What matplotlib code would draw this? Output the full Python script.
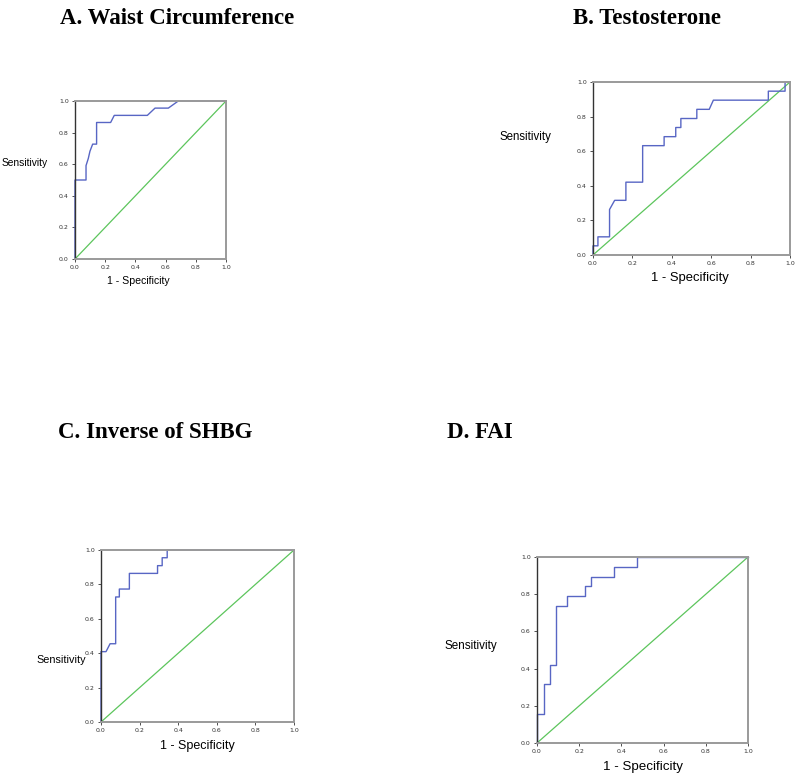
import matplotlib
matplotlib.use("Agg")
import matplotlib.pyplot as plt
import numpy as np

W, H = 800, 778

titles = ["A. Waist Circumference", "B. Testosterone", "C. Inverse of SHBG", "D. FAI"]

fpr_a = [0, 0, 0.073, 0.073, 0.088, 0.099, 0.117, 0.143, 0.143, 0.236, 0.26, 0.479, 0.53, 0.618, 0.684, 1.0]
tpr_a = [0, 0.5, 0.5, 0.591, 0.636, 0.682, 0.727, 0.727, 0.864, 0.864, 0.909, 0.909, 0.955, 0.955, 1.0, 1.0]

fpr_b = [0, 0, 0.025, 0.025, 0.084, 0.084, 0.11, 0.167, 0.167, 0.252, 0.252, 0.361, 0.361, 0.42, 0.42,
         0.446, 0.446, 0.527, 0.527, 0.59, 0.611, 0.89, 0.89, 0.975, 0.975, 1.0]
tpr_b = [0, 0.053, 0.053, 0.105, 0.105, 0.263, 0.316, 0.316, 0.421, 0.421, 0.632, 0.632, 0.684, 0.684, 0.737,
         0.737, 0.789, 0.789, 0.842, 0.842, 0.895, 0.895, 0.947, 0.947, 1.0, 1.0]

fpr_c = [0, 0, 0.026, 0.047, 0.076, 0.076, 0.095, 0.095, 0.147, 0.147, 0.293, 0.293, 0.317, 0.317, 0.343, 0.343, 1.0]
tpr_c = [0, 0.409, 0.409, 0.455, 0.455, 0.727, 0.727, 0.773, 0.773, 0.864, 0.864, 0.909, 0.909, 0.955, 0.955, 1.0, 1.0]

fpr_d = [0, 0, 0.032, 0.032, 0.06, 0.06, 0.088, 0.088, 0.142, 0.142, 0.226, 0.226, 0.254, 0.254, 0.365, 0.365, 0.474, 0.474, 1.0]
tpr_d = [0, 0.158, 0.158, 0.316, 0.316, 0.421, 0.421, 0.737, 0.737, 0.789, 0.789, 0.842, 0.842, 0.895, 0.895, 0.947, 0.947, 1.0, 1.0]

ticks = [0.0, 0.2, 0.4, 0.6, 0.8, 1.0]
tick_labels = ["0.0", "0.2", "0.4", "0.6", "0.8", "1.0"]

# layout (pixels): axes x0, x1, y_top, y_bottom
panels = [
    dict(fpr=fpr_a, tpr=tpr_a, box=(75, 226, 101, 259), title=(177, 18), sens=(25, 163, 7.4), spec=(138, 281, 7.6)),
    dict(fpr=fpr_b, tpr=tpr_b, box=(593, 790, 82, 255), title=(647, 18), sens=(525, 137, 8.3), spec=(690, 278, 9.4)),
    dict(fpr=fpr_c, tpr=tpr_c, box=(101, 294, 550, 722), title=(155, 432), sens=(61, 660, 7.8), spec=(197, 746, 9.0)),
    dict(fpr=fpr_d, tpr=tpr_d, box=(537, 748, 557, 743), title=(480, 432), sens=(471, 646, 8.4), spec=(643, 767, 9.6)),
]

fig = plt.figure(figsize=(W / 100, H / 100), dpi=100)
fig.patch.set_facecolor("white")

for p, title in zip(panels, titles):
    x0, x1, yt, yb = p["box"]
    ax = fig.add_axes([x0 / W, 1 - yb / H, (x1 - x0) / W, (yb - yt) / H])
    ax.plot([0, 1], [0, 1], color="#5cc55c", lw=0.9, clip_on=False)
    ax.plot(p["fpr"], p["tpr"], color="#5866c4", lw=1.0, clip_on=False)
    ax.set_xlim(0, 1)
    ax.set_ylim(0, 1)
    ax.set_xticks(ticks)
    ax.set_yticks(ticks)
    ax.set_xticklabels(tick_labels)
    ax.set_yticklabels(tick_labels)
    ax.tick_params(labelsize=4.5, length=2.5, width=0.6, pad=2.0, colors="#333333")
    for side in ["top", "right", "bottom"]:
        ax.spines[side].set_color("#9a9a9a")
        ax.spines[side].set_linewidth(1.4)
    ax.spines["left"].set_color("#333333")
    ax.spines["left"].set_linewidth(1.0)
    tx, ty = p["title"]
    fig.text(tx / W, 1 - ty / H, title, family="Liberation Serif", weight="bold",
             fontsize=16.5, ha="center", va="center")
    sx, sy, ss = p["sens"]
    fig.text(sx / W, 1 - sy / H, "Sensitivity", family="Liberation Sans", fontsize=ss,
             ha="center", va="center")
    px, py, ps = p["spec"]
    fig.text(px / W, 1 - py / H, "1 - Specificity", family="Liberation Sans", fontsize=ps,
             ha="center", va="center")

fig.savefig("out.png", dpi=100, facecolor="white")
